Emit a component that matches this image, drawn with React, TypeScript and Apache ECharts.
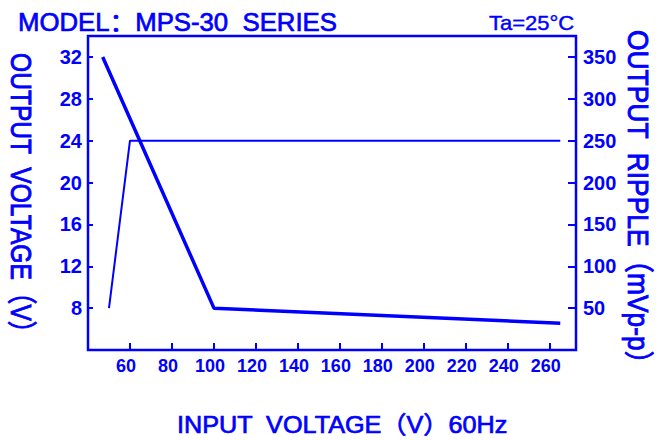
import React, { useEffect, useRef } from "react";
import * as echarts from "echarts";

const BLUE = "#0000ff";

// Output ripple (mVp-p) vs input voltage (V)
const rippleInput = [47, 100, 265];
const rippleValues = [350, 50, 32];

// Output voltage (V) vs input voltage (V)
const voltageInput = [50, 60, 265];
const voltageValues = [8, 24, 24];

const titleText = "MODEL：MPS-30  SERIES";
const tempText = "Ta=25°C";
const xTitle = "INPUT  VOLTAGE（V）60Hz";
const leftTitle = "OUTPUT  VOLTAGE（V）";
const rightTitle = "OUTPUT  RIPPLE（mVp-p）";

const SANS = "'Liberation Sans', Arial, 'Noto Sans CJK SC', sans-serif";

export default function App() {
  const ref = useRef<HTMLDivElement>(null);
  useEffect(() => {
    if (!ref.current) return;
    const chart = echarts.init(ref.current, null, { renderer: "svg" });
    const textStyle = (size: number, w = 0.7) => ({
      fill: BLUE,
      stroke: BLUE,
      lineWidth: w,
      font: `${size}px ${SANS}`,
      align: "left",
      verticalAlign: "middle",
    });
    const option: any = {
      animation: false,
      backgroundColor: "#ffffff",
      grid: {
        left: 88,
        right: 88,
        top: 36,
        bottom: 90,
        containLabel: false,
        outerBoundsMode: "none",
        show: true,
        borderColor: BLUE,
        borderWidth: 2.5,
        backgroundColor: "transparent",
      },
      xAxis: {
        type: "value",
        min: 40,
        max: 272.5,
        interval: 20,
        axisLine: { show: false },
        axisTick: { show: true, inside: true, length: 7, lineStyle: { color: BLUE, width: 2 } },
        splitLine: { show: false },
        axisLabel: {
          color: BLUE,
          fontFamily: SANS,
          fontWeight: "bold",
          fontSize: 18,
          margin: 7,
          padding: [0, 8, 0, 0],
          showMinLabel: false,
          showMaxLabel: false,
        },
      },
      yAxis: [
        {
          type: "value",
          position: "left",
          min: 4,
          max: 34,
          interval: 4,
          axisLine: { show: false },
          axisTick: { show: true, inside: true, length: 5, lineStyle: { color: BLUE, width: 2 } },
          splitLine: { show: false },
          axisLabel: {
            color: BLUE,
            fontFamily: SANS,
            fontWeight: "bold",
            fontSize: 20,
            margin: 6,
            showMinLabel: false,
            showMaxLabel: false,
          },
        },
        {
          type: "value",
          position: "right",
          min: 0,
          max: 375,
          interval: 50,
          axisLine: { show: false },
          axisTick: { show: true, inside: true, length: 8, lineStyle: { color: BLUE, width: 2 } },
          splitLine: { show: false },
          axisLabel: {
            color: BLUE,
            fontFamily: SANS,
            fontWeight: "bold",
            fontSize: 20,
            margin: 7,
            showMinLabel: false,
            showMaxLabel: false,
          },
        },
      ],
      series: [
        {
          name: "ripple",
          type: "line",
          yAxisIndex: 1,
          data: rippleInput.map((x, i) => [x, rippleValues[i]]),
          symbol: "none",
          lineStyle: { color: BLUE, width: 3.5 },
          z: 3,
        },
        {
          name: "voltage",
          type: "line",
          yAxisIndex: 0,
          data: voltageInput.map((x, i) => [x, voltageValues[i]]),
          symbol: "none",
          lineStyle: { color: BLUE, width: 2 },
          z: 2,
        },
      ],
      graphic: [
        { type: "text", x: 18, y: 22.5, scaleX: 1.03, style: { text: titleText, ...textStyle(25) } },
        { type: "text", x: 489, y: 23, scaleX: 1.1, style: { text: tempText, ...textStyle(20, 0.4) } },
        { type: "text", x: 177, y: 424.5, scaleX: 1.05, style: { text: xTitle, ...textStyle(24) } },
        {
          type: "text",
          x: 21,
          y: 53,
          rotation: -Math.PI / 2,
          scaleX: 0.82,
          style: { text: leftTitle, ...textStyle(30, 0.9) },
        },
        {
          type: "text",
          x: 639,
          y: 30,
          rotation: -Math.PI / 2,
          scaleX: 0.88,
          style: { text: rightTitle, ...textStyle(30, 0.9) },
        },
      ],
    };
    chart.setOption(option);
    return () => chart.dispose();
  }, []);
  return (
    <div
      ref={ref}
      style={{ position: "absolute", left: 0, top: 0, width: 664, height: 440 }}
    />
  );
}
